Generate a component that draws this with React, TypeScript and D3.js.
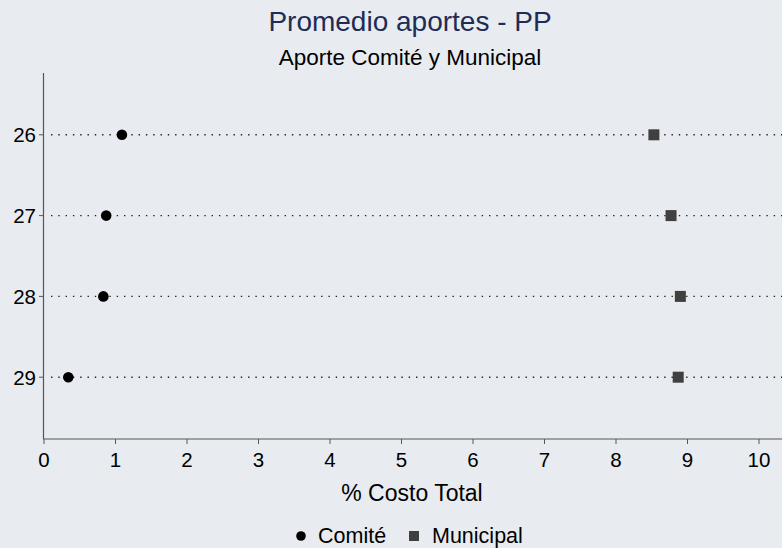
import React from "react";
import * as d3 from "d3";

const years = [26, 27, 28, 29];
const comite = [1.09, 0.87, 0.83, 0.34];
const municipal = [8.53, 8.77, 8.9, 8.87];
const xTicks = [0, 1, 2, 3, 4, 5, 6, 7, 8, 9, 10];

const W = 782;
const H = 548;
const font = "'Liberation Sans', Arial, Helvetica, sans-serif";

const App: React.FC = () => {
  // plot frame
  const left = 44;
  const top = 73;
  const bottom = 439;

  const x = d3.scaleLinear().domain([0, 10]).range([left, 759]);
  const y = d3.scaleLinear().domain([25.235, 29.765]).range([top, bottom]);

  return (
    <svg
      width={W}
      height={H}
      style={{ position: "absolute", left: 0, top: 0, display: "block", fontFamily: font }}
    >
      <rect width={W} height={H} fill="#e8ecf0" />

      <text x={410} y={31} textAnchor="middle" fontSize={28} fill="#1f2d56">
        Promedio aportes - PP
      </text>
      <text x={410} y={65} textAnchor="middle" fontSize={22.5} fill="#000">
        Aporte Comité y Municipal
      </text>

      {/* dotted row lines */}
      {years.map((yr) => (
        <line
          key={"g" + yr}
          x1={left + 7}
          x2={W}
          y1={y(yr)}
          y2={y(yr)}
          stroke="#222"
          strokeWidth={1.4}
          strokeDasharray="1.4 5.9"
        />
      ))}

      {/* y axis */}
      <line x1={left - 0.5} x2={left - 0.5} y1={top} y2={bottom} stroke="#555" strokeWidth={1.2} />
      {years.map((yr) => (
        <g key={"yt" + yr}>
          <line x1={left - 5} x2={left - 0.5} y1={y(yr)} y2={y(yr)} stroke="#555" />
          <text x={left - 8} y={y(yr)} dy="0.36em" textAnchor="end" fontSize={20.5} fill="#000">
            {yr}
          </text>
        </g>
      ))}

      {/* x axis */}
      <line x1={left - 1} x2={W} y1={bottom} y2={bottom} stroke="#555" strokeWidth={1.2} />
      {xTicks.map((t) => (
        <g key={"xt" + t}>
          <line x1={x(t)} x2={x(t)} y1={bottom} y2={bottom + 5} stroke="#555" />
          <text x={x(t)} y={bottom + 28} textAnchor="middle" fontSize={20.5} fill="#000">
            {t}
          </text>
        </g>
      ))}
      <text x={412} y={501} textAnchor="middle" fontSize={23} fill="#000">
        % Costo Total
      </text>

      {/* markers */}
      {years.map((yr, i) => (
        <circle key={"c" + yr} cx={x(comite[i])} cy={y(yr)} r={5.3} fill="#000" />
      ))}
      {years.map((yr, i) => (
        <rect
          key={"m" + yr}
          x={x(municipal[i]) - 5.5}
          y={y(yr) - 5.5}
          width={11}
          height={11}
          fill="#404040"
        />
      ))}

      {/* legend */}
      <circle cx={301} cy={536} r={4.8} fill="#000" />
      <text x={318} y={543} fontSize={21.5} fill="#000">
        Comité
      </text>
      <rect x={409} y={531} width={10} height={10} fill="#404040" />
      <text x={432} y={543} fontSize={21.5} fill="#000">
        Municipal
      </text>
    </svg>
  );
};

export default App;
